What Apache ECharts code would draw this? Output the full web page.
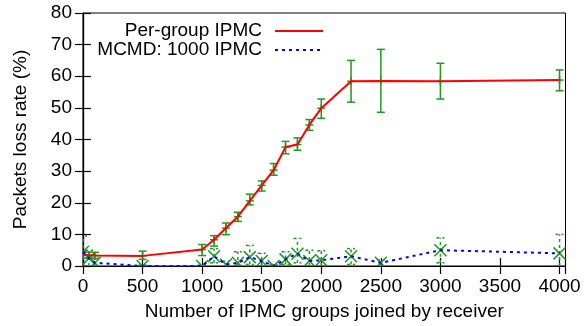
<!DOCTYPE html>
<html>
<head>
<meta charset="utf-8">
<script src="https://cdn.jsdelivr.net/npm/echarts@6/dist/echarts.min.js"></script>
<style>html,body{margin:0;padding:0;background:#fff;}#c{width:585px;height:326px;}</style>
</head>
<body>
<div id="c"></div>
<script>
var xValues = [0, 50, 100, 500, 1000, 1100, 1200, 1300, 1400, 1500, 1600, 1700, 1800, 1900, 2000, 2250, 2500, 3000, 4000];

var perGroup     = [3.5, 3.4, 3.3, 3.2, 5.2, 8.3, 12.0, 15.6, 20.6, 25.5, 30.3, 37.6, 38.4, 44.6, 49.9, 58.4, 58.5, 58.4, 58.8];
var perGroupLow  = [2.5, 2.4, 2.3, 2.1, 3.3, 6.3, 9.9, 14.1, 19.3, 23.7, 28.7, 35.5, 36.6, 42.9, 46.7, 51.8, 48.6, 52.8, 55.4];
var perGroupHigh = [4.5, 4.4, 4.3, 4.7, 6.8, 9.6, 13.6, 17.0, 22.7, 26.9, 32.4, 39.4, 40.5, 46.3, 52.8, 65.0, 68.5, 64.1, 62.0];

var mcmd     = [4.5, 2.4, 1.0, 0.0, 0.0, 3.1, 0.5, 1.0, 2.8, 1.6, 0.0, 2.1, 3.9, 1.6, 1.8, 3.1, 1.0, 5.0, 4.0];
var mcmdLow  = [0.0, 0.0, 0.0, 0.0, 0.0, 1.0, 0.0, 0.0, 0.5, 0.0, 0.0, 0.5, 1.0, 0.0, 0.0, 0.5, 0.0, 1.0, 0.0];
var mcmdHigh = [9.5, 5.0, 2.5, 0.3, 0.3, 5.5, 1.5, 4.5, 6.5, 4.0, 0.5, 4.5, 8.7, 5.0, 4.8, 5.5, 2.0, 8.9, 10.0];

var xTicks = [0, 500, 1000, 1500, 2000, 2500, 3000, 3500, 4000];
var yTicks = [0, 10, 20, 30, 40, 50, 60, 70, 80];

var seriesNames = ['Per-group IPMC', 'MCMD: 1000 IPMC'];
var xTitle = 'Number of IPMC groups joined by receiver';
var yTitle = 'Packets loss rate (%)';

var GREEN = '#1f9a1f';
var FONT = 'Liberation Sans, Arial, sans-serif';
var FS = 19;

function pairs(ys) { return xValues.map(function (x, i) { return [x, ys[i]]; }); }
function rows(v, lo, hi) { return xValues.map(function (x, i) { return [x, v[i], lo[i], hi[i]]; }); }

function errRender(dashed, marker) {
  return function (params, api) {
    var x = api.value(0);
    var p = api.coord([x, api.value(1)]);
    var pl = api.coord([x, api.value(2)]);
    var ph = api.coord([x, api.value(3)]);
    var st = { stroke: GREEN, lineWidth: 1.5, lineDash: dashed ? [3, 3] : null };
    var mst = { stroke: GREEN, lineWidth: 1.5 };
    var c = 4;
    var ch = [
      { type: 'line', shape: { x1: pl[0], y1: pl[1], x2: ph[0], y2: ph[1] }, style: st },
      { type: 'line', shape: { x1: pl[0] - c, y1: pl[1], x2: pl[0] + c, y2: pl[1] }, style: st },
      { type: 'line', shape: { x1: ph[0] - c, y1: ph[1], x2: ph[0] + c, y2: ph[1] }, style: st }
    ];
    if (marker === 'plus') {
      ch.push({ type: 'line', shape: { x1: p[0] - 4, y1: p[1], x2: p[0] + 4, y2: p[1] }, style: mst });
      ch.push({ type: 'line', shape: { x1: p[0], y1: p[1] - 4, x2: p[0], y2: p[1] + 4 }, style: mst });
    } else {
      var m = 6;
      ch.push({ type: 'line', shape: { x1: p[0] - m, y1: p[1] - m, x2: p[0] + m, y2: p[1] + m }, style: mst });
      ch.push({ type: 'line', shape: { x1: p[0] - m, y1: p[1] + m, x2: p[0] + m, y2: p[1] - m }, style: mst });
    }
    return { type: 'group', children: ch };
  };
}

var chart = echarts.init(document.getElementById('c'), null, { renderer: 'canvas' });

var tickFmtX = function (v) { return xTicks.indexOf(v) >= 0 ? String(v) : ''; };
var tickFmtY = function (v) { return yTicks.indexOf(v) >= 0 ? String(v) : ''; };

var option = {
  animation: false,
  backgroundColor: '#fff',
  textStyle: { fontFamily: FONT },
  grid: { left: 83, right: 19.5, top: 13, bottom: 57.5, show: true, borderColor: '#000', borderWidth: 1, backgroundColor: 'transparent' },
  xAxis: [
    {
      type: 'value', min: 0, max: 4050, interval: 500, position: 'bottom',
      name: xTitle, nameLocation: 'middle', nameGap: 36,
      nameTextStyle: { fontSize: FS, color: '#000', fontFamily: FONT },
      axisLine: { show: true, lineStyle: { color: '#000', width: 1.2 } },
      axisTick: { show: true, inside: true, length: 8, lineStyle: { color: '#000', width: 1.2 } },
      axisLabel: { show: true, margin: 11, fontSize: FS, color: '#000', fontFamily: FONT, formatter: tickFmtX, showMaxLabel: true },
      splitLine: { show: false }
    },
    {
      type: 'value', min: 0, max: 4050, interval: 500, position: 'top',
      axisLine: { show: true, lineStyle: { color: '#000', width: 1.2 } },
      axisTick: { show: true, inside: true, length: 8, lineStyle: { color: '#000', width: 1.2 } },
      axisLabel: { show: false },
      splitLine: { show: false }
    }
  ],
  yAxis: [
    {
      type: 'value', min: 0, max: 80, interval: 10, position: 'left',
      name: yTitle, nameLocation: 'middle', nameGap: 53, nameRotate: 90,
      nameTextStyle: { fontSize: FS, color: '#000', fontFamily: FONT },
      axisLine: { show: true, lineStyle: { color: '#000', width: 1.2 } },
      axisTick: { show: true, inside: true, length: 8, lineStyle: { color: '#000', width: 1.2 } },
      axisLabel: { show: true, margin: 11, fontSize: FS, color: '#000', fontFamily: FONT, formatter: tickFmtY },
      splitLine: { show: false }
    },
    {
      type: 'value', min: 0, max: 80, interval: 10, position: 'right',
      axisLine: { show: true, lineStyle: { color: '#000', width: 1.2 } },
      axisTick: { show: true, inside: true, length: 8, lineStyle: { color: '#000', width: 1.2 } },
      axisLabel: { show: false },
      splitLine: { show: false }
    }
  ],
  series: [
    {
      type: 'custom', name: seriesNames[0] + ' err', xAxisIndex: 0, yAxisIndex: 0, clip: true,
      renderItem: errRender(false, 'plus'), data: rows(perGroup, perGroupLow, perGroupHigh), z: 2
    },
    {
      type: 'custom', name: seriesNames[1] + ' err', xAxisIndex: 0, yAxisIndex: 0, clip: true,
      renderItem: errRender(true, 'x'), data: rows(mcmd, mcmdLow, mcmdHigh), z: 2
    },
    {
      type: 'line', name: seriesNames[0], data: pairs(perGroup), showSymbol: false, symbol: 'none',
      lineStyle: { color: '#ff0000', width: 2 }, z: 3, clip: true
    },
    {
      type: 'line', name: seriesNames[1], data: pairs(mcmd), showSymbol: false, symbol: 'none',
      lineStyle: { color: '#0000ff', width: 2, type: [3, 4] }, z: 3, clip: true
    }
  ],
  graphic: [
    { type: 'text', x: 262, y: 31, style: { text: seriesNames[0], fontSize: FS, fontFamily: FONT, fill: '#000', align: 'right', verticalAlign: 'middle' } },
    { type: 'line', shape: { x1: 275, y1: 31, x2: 323, y2: 31 }, style: { stroke: '#ff0000', lineWidth: 2 } },
    { type: 'text', x: 262, y: 50, style: { text: seriesNames[1], fontSize: FS, fontFamily: FONT, fill: '#000', align: 'right', verticalAlign: 'middle' } },
    { type: 'line', shape: { x1: 275, y1: 50, x2: 323, y2: 50 }, style: { stroke: '#0000ff', lineWidth: 2, lineDash: [3, 4] } }
  ]
};
chart.setOption(option);
</script>
</body>
</html>
